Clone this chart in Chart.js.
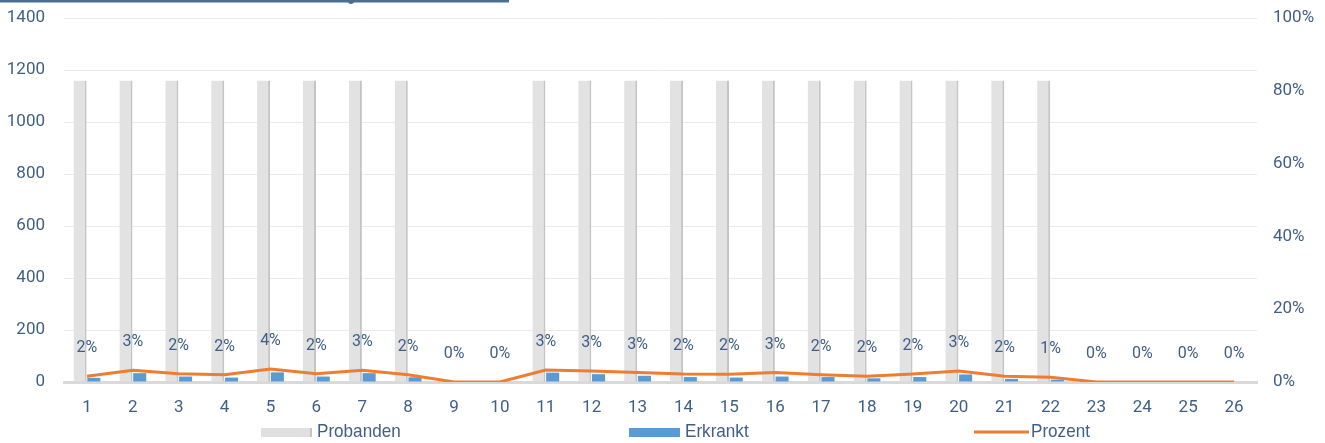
<!DOCTYPE html>
<html>
<head>
<meta charset="utf-8">
<script src="https://cdn.jsdelivr.net/npm/chart.js@4.4.1/dist/chart.umd.min.js"></script>
<style>
html,body{margin:0;padding:0;background:#fff;}
#wrap{width:1325px;height:443px;position:relative;}
</style>
</head>
<body>
<div id="wrap"><canvas id="c" width="1325" height="443"></canvas></div>
<script>
const categories = ['1','2','3','4','5','6','7','8','9','10','11','12','13','14','15','16','17','18','19','20','21','22','23','24','25','26'];
const probanden = [1160,1160,1160,1160,1160,1160,1160,1160,0,0,1160,1160,1160,1160,1160,1160,1160,1160,1160,1160,1160,1160,0,0,0,0];
const erkrankt = [16,34,21,17,37,21,34,18,0,0,36,30,24,19,17,21,19,14,19,29,12,9,0,0,0,0];
const prozent = [0.016,0.032,0.023,0.020,0.036,0.023,0.032,0.020,0,0,0.033,0.030,0.026,0.022,0.021,0.026,0.020,0.016,0.022,0.030,0.016,0.013,0,0,0,0];
const leftTicks = [0,200,400,600,800,1000,1200,1400];
const rightTicks = [0,0.2,0.4,0.6,0.8,1.0];

const TXT = '#3F5F86';
const FONT = 'Roboto, "Open Sans", sans-serif';

const percentLabels = {
  id:'percentLabels',
  afterDatasetsDraw(chart){
    const ctx = chart.ctx;
    const meta = chart.getDatasetMeta(2);
    ctx.save();
    ctx.font = '16px ' + FONT;
    ctx.fillStyle = TXT;
    ctx.textAlign = 'center';
    ctx.textBaseline = 'middle';
    meta.data.forEach((pt,i)=>{
      ctx.fillText(Math.round(prozent[i]*100)+'%', pt.x, pt.y - 28);
    });
    ctx.restore();
  }
};

const customLegend = {
  id:'customLegend',
  afterDraw(chart){
    const ctx = chart.ctx;
    const ds = chart.data.datasets;
    const items = [
      {x:261, kind:'box', color:'#E0E0E0', edge:'#C4C4C4', text:ds[0].label},
      {x:629, kind:'box', color:ds[1].backgroundColor, edge:null, text:ds[1].label},
      {x:974, kind:'line', color:ds[2].borderColor, text:ds[2].label}
    ];
    const y = 432;
    ctx.save();
    ctx.font = '19px "Liberation Sans", Arial, sans-serif';
    ctx.textBaseline = 'middle';
    ctx.textAlign = 'left';
    items.forEach(it=>{
      if(it.kind==='box'){
        ctx.fillStyle = it.color;
        ctx.fillRect(it.x, y-4, 51, 9);
        if(it.edge){ctx.fillStyle = it.edge; ctx.fillRect(it.x+49, y-4, 2, 9);}
      } else {
        ctx.strokeStyle = it.color; ctx.lineWidth = 3;
        ctx.beginPath(); ctx.moveTo(it.x, y); ctx.lineTo(it.x+55, y); ctx.stroke();
      }
      ctx.fillStyle = TXT;
      const tx = it.x + (it.kind==='box'?56:57);
      ctx.save();
      ctx.translate(tx, y);
      ctx.scale(0.9, 1);
      ctx.fillText(it.text, 0, 0);
      ctx.restore();
    });
    // partial title underline at the top
    ctx.fillStyle = '#4D6D92';
    ctx.fillRect(0, 0, 509, 2.5);
    ctx.beginPath(); ctx.arc(351, 1, 3, 0, Math.PI*2); ctx.fill();
    ctx.restore();
  }
};

new Chart(document.getElementById('c'), {
  data:{
    labels: categories,
    datasets:[
      {type:'bar', label:'Probanden', data:probanden, yAxisID:'y', order:2,
       backgroundColor:'#E2E2E2', borderColor:'#C4C4C4',
       borderWidth:{left:0,right:2,top:0,bottom:0}, borderSkipped:false,
       categoryPercentage:0.6, barPercentage:0.95},
      {type:'bar', label:'Erkrankt', data:erkrankt, yAxisID:'y', order:2,
       backgroundColor:'#5B9BD5', borderWidth:0,
       categoryPercentage:0.6, barPercentage:0.95},
      {type:'line', label:'Prozent', data:prozent, yAxisID:'y1', order:1,
       borderColor:'#ED7D31', backgroundColor:'#ED7D31', borderWidth:3,
       pointRadius:0, tension:0, fill:false}
    ]
  },
  options:{
    responsive:false, animation:false, devicePixelRatio:1,
    layout:{padding:{top:18,bottom:0,left:0,right:0}},
    plugins:{legend:{display:false}, tooltip:{enabled:false}, title:{display:false}},
    scales:{
      x:{
        grid:{display:false, drawTicks:false},
        border:{display:true, color:'#D9D9D9', width:3},
        ticks:{color:TXT, font:{family:FONT, size:17}, padding:16, maxRotation:0, autoSkip:false},
        afterFit(s){ s.height = 61; s.paddingLeft = 0; s.paddingRight = 0; }
      },
      y:{
        position:'left', min:0, max:1400,
        afterBuildTicks(s){ s.ticks = leftTicks.map(v=>({value:v})); },
        grid:{color:'#EBEBEB', lineWidth:1, drawTicks:false},
        border:{display:false},
        ticks:{color:TXT, font:{family:FONT, size:17}, padding:19, callback:v=>String(v)},
        afterFit(s){ s.width = 64; s.paddingTop = 0; s.paddingBottom = 0; }
      },
      y1:{
        position:'right', min:0, max:1,
        afterBuildTicks(s){ s.ticks = rightTicks.map(v=>({value:v})); },
        grid:{display:false, drawTicks:false},
        border:{display:false},
        ticks:{color:TXT, font:{family:FONT, size:17}, padding:16, callback:v=>Math.round(v*100)+'%'},
        afterFit(s){ s.width = 68; s.paddingTop = 0; s.paddingBottom = 0; }
      }
    }
  },
  plugins:[percentLabels, customLegend]
});
</script>
</body>
</html>
